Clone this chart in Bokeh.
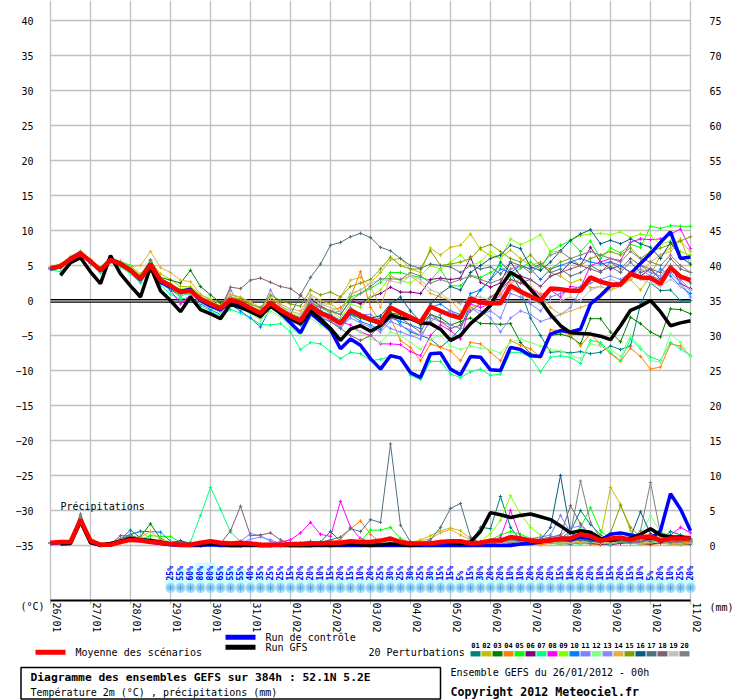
from math import nan, pi
from bokeh.plotting import figure
from bokeh.models import Range1d, LinearAxis, FixedTicker
from bokeh.embed import file_html
from bokeh.resources import INLINE
from bokeh.core.properties import value

# ---------------- data ----------------
hours = list(range(0, 385, 6))
date_labels = ["26/01", "27/01", "28/01", "29/01", "30/01", "31/01", "01/02", "02/02",
               "03/02", "04/02", "05/02", "06/02", "07/02", "08/02", "09/02", "10/02", "11/02"]
member_names = ["01", "02", "03", "04", "05", "06", "07", "08", "09", "10",
                "11", "12", "13", "14", "15", "16", "17", "18", "19", "20"]
member_colors = ["#008080", "#c0c000", "#008000", "#ff8000", "#00ff00", "#800080", "#00ff80",
                 "#ff00ff", "#80ff00", "#0080ff", "#8080ff", "#80ff80", "#8888ff", "#e0b040",
                 "#80a000", "#005f80", "#507080", "#806070", "#c0c0c0", "#808080"]
temp_ticks = list(range(-35, 41, 5))
mm_ticks = list(range(0, 76, 5))

# temperatures 2m (degC), one value every 6 h
t01 = [4.7, 5.0, 6.1, 6.9, 5.3, 4.0, 5.9, 5.4, 4.0, 2.6, 5.6, 2.5, 1.8, 0.8, 1.0, -0.3, -0.9, -1.6, -0.2,
       -0.8, -1.2, -2.0, -0.6, -1.5, -2.6, -3.4, -1.0, -1.8, -2.5, -3.2, -2.0, -2.5, -3.0, -2.5, -1.5, -3.5, -4.5, -5.0, -5.5, -6.7, -5.5, -4.0, -0.5, 1.5, 3.0,
       5.5, 4.0, 1.5, -2.5, -5.0, -7.4, -7.3, -7.5, -7.3, -7.6, -7.4, -6.5, -7.0, -6.5, -0.5, 2.5, 1.4, 1.5, 0.0, 0.0]
t02 = [4.8, 5.2, 6.3, 7.1, 5.9, 4.7, 6.0, 5.6, 4.9, 3.8, 5.6, 3.8, 3.0, 2.0, 2.0, 0.8, 0.2, -0.5, 0.8,
       0.4, -0.4, -1.2, 0.5, -0.8, -1.5, -2.0, 0.5, -0.5, -0.5, -1.5, 0.8, 1.5, 2.5, 4.0, 5.8, 6.0, 4.5, 4.0, 7.5, 6.5, 7.6, 7.9, 9.5, 7.3, 6.4,
       6.1, 7.2, 6.0, 5.0, 5.5, 4.0, 3.5, 2.5, 3.0, 1.8, 2.0, 1.5, 2.5, 3.0, 1.5, 3.5, 6.5, 7.5, 8.8, 5.0]
t03 = [4.5, 4.9, 5.8, 6.6, 5.7, 4.4, 5.6, 5.3, 4.5, 3.5, 5.8, 3.3, 2.9, 2.5, 4.3, 2.0, 0.8, -0.3, 0.5,
       0.0, -0.8, -1.5, -0.2, -1.2, -2.0, -2.6, -0.5, -1.5, -2.2, -3.0, -1.8, -2.5, -3.0, -3.5, -1.8, -2.0, -2.5, -3.5, -2.0, -2.5, -3.5, -3.0, -2.5, -3.3, -3.3,
       -3.4, -3.3, -6.0, -7.6, -7.9, -5.0, -4.8, -5.2, -6.2, -2.6, -2.6, -4.5, -5.9, -2.4, -3.3, -4.5, -5.2, -1.2, -1.3, -1.9]
t04 = [4.6, 4.8, 5.7, 6.5, 5.4, 4.1, 5.7, 5.0, 4.1, 2.9, 4.2, 2.5, 1.9, 1.0, 1.2, 0.0, -0.7, -1.3, -0.2,
       -0.5, -1.3, -2.0, -0.5, -1.6, -2.4, -3.0, -0.5, -1.0, -1.5, -1.0, 0.5, 4.1, -1.0, -3.0, -2.5, -5.7, -6.7, -8.6, -6.2, -6.7, -7.2, -8.6, -6.0, -6.2, -7.4,
       -8.6, -5.7, -6.4, -6.9, -8.1, -4.2, -4.3, -5.0, -6.5, -4.7, -6.3, -7.6, -8.7, -6.8, -8.0, -9.8, -9.5, -6.2, -6.5, -7.9]
t05 = [4.5, 4.6, 5.8, 6.9, 5.8, 4.6, 5.5, 5.6, 5.0, 3.4, 5.5, 2.7, 1.6, 0.5, 1.5, -0.2, -0.8, -1.4, 0.3,
       -0.5, -1.0, -2.0, -0.5, -1.8, -2.8, -3.0, -0.8, -1.0, -1.8, -1.5, 0.5, 1.0, 1.7, 2.6, 4.0, 4.0, 3.6, 3.3, 2.9, 4.5, 2.1, 2.1, 3.6, 3.3, 4.0,
       5.0, 3.5, 4.6, 5.5, 4.5, 7.0, 7.9, 8.5, 7.0, 8.5, 6.0, 7.5, 6.8, 8.0, 7.6, 10.6, 10.3, 10.7, 10.6, 10.6]
t06 = [4.6, 5.0, 6.0, 6.8, 5.6, 4.5, 5.8, 5.1, 4.2, 3.0, 4.8, 2.8, 2.0, 1.1, 1.3, 0.3, -0.4, -1.0, 0.2,
       -0.2, -1.0, -1.6, -0.1, -1.2, -2.0, -2.5, 0.2, -0.8, -1.5, -2.0, 0.0, -0.5, 0.5, 1.0, 1.9, 1.2, 1.2, 1.0, 3.0, 3.2, 3.0, 3.2, 6.2, 2.6, 1.9,
       2.5, 5.5, 3.5, 3.0, 2.0, 3.5, 4.0, 5.5, 5.0, 7.6, 5.5, 4.5, 5.0, 4.0, 3.5, 4.5, 3.0, 5.0, 2.4, 1.7]
t07 = [4.4, 4.1, 5.6, 6.4, 5.3, 3.9, 5.4, 4.8, 3.8, 2.5, 4.6, 2.2, 0.9, 0.2, 0.5, -0.8, -1.5, -2.3, -1.3,
       -1.8, -2.5, -3.4, -3.5, -3.3, -4.5, -7.0, -6.0, -6.2, -7.3, -8.3, -7.4, -7.6, -8.6, -8.4, -8.0, -8.4, -10.7, -11.3, -8.7, -8.7, -10.5, -11.0, -10.2, -9.8, -10.7,
       -10.5, -7.4, -7.4, -8.1, -10.2, -8.1, -7.9, -8.1, -9.0, -5.7, -6.0, -7.4, -8.6, -5.5, -6.9, -8.1, -8.6, -6.0, -6.9, -7.9]
t08 = [4.7, 5.0, 6.0, 6.7, 5.8, 4.5, 5.9, 5.3, 4.4, 3.2, 5.2, 2.9, 1.5, -0.5, 0.8, 0.0, -0.6, -1.6, -0.4,
       -0.8, -1.5, -2.5, -0.8, -1.5, -2.8, -3.5, -1.0, -2.0, -2.5, -3.0, -3.5, -4.5, -5.0, -6.2, -6.2, -6.3, -7.3, -7.9, -5.0, -3.5, -4.3, -5.5, -0.5, -1.0, -0.5,
       0.8, 3.0, 2.5, 1.8, 0.8, 1.5, 0.5, 2.0, 1.8, 5.0, 5.5, 6.0, 5.7, 8.3, 8.8, 8.7, 8.8, 9.5, 10.2, 7.4]
t09 = [4.7, 5.1, 6.2, 6.9, 5.7, 4.6, 5.9, 5.4, 4.6, 3.4, 5.5, 3.2, 2.4, 1.6, 1.9, 0.6, -0.1, -0.8, 0.5,
       0.0, -0.8, -1.5, 0.0, -1.0, -1.8, -2.3, 0.0, -1.0, -1.5, -2.5, -0.5, -1.0, 0.5, 1.5, 3.5, 2.8, 2.5, 3.5, 5.0, 4.5, 5.5, 6.5, 5.0, 5.5, 7.0,
       6.0, 8.8, 8.0, 8.6, 9.4, 6.9, 7.1, 8.6, 9.3, 9.5, 9.6, 9.4, 9.8, 9.0, 9.5, 9.3, 8.0, 8.5, 7.0, 6.5]
t10 = [4.5, 4.8, 5.8, 6.6, 5.5, 4.2, 5.7, 5.1, 4.2, 2.9, 5.0, 2.5, 1.5, 0.8, 1.0, -0.5, -1.3, -2.0, -0.6,
       -1.5, -2.5, -3.8, -1.0, -2.0, -3.0, -3.5, -1.5, -2.5, -3.0, -4.0, -2.0, -3.0, -3.5, -4.2, -2.5, -3.0, -3.5, -4.0, -1.0, -0.5, -1.5, -2.0, 1.0, 1.5, 3.0,
       4.5, 4.0, 5.0, 4.5, 3.0, 4.5, 5.0, 5.5, 6.0, 5.5, 5.2, 5.5, 5.0, 4.0, 3.5, 3.0, 4.5, 3.5, 2.0, 1.0]
t11 = [4.6, 4.9, 5.9, 6.8, 5.6, 4.4, 5.8, 5.2, 4.3, 3.1, 5.0, 2.9, 2.0, 1.3, 1.5, 0.3, -0.5, -1.2, 1.5,
       -0.5, -1.0, -1.5, 1.5, -1.0, -2.0, -2.5, 0.0, -1.5, -2.0, -2.8, -1.0, -2.0, -2.0, -3.0, -4.0, -4.5, -5.0, -5.5, -2.5, -3.0, -3.5, -4.0, -1.0, -2.0, -1.5,
       -2.5, 1.0, 0.5, -0.5, -1.5, 0.5, 1.0, 1.5, 2.0, 3.0, 2.5, 2.0, 2.0, 3.5, 4.5, 3.5, 3.0, 4.0, 2.5, 0.5]
t12 = [4.6, 4.9, 5.9, 6.6, 5.5, 4.2, 5.7, 5.1, 4.1, 2.8, 5.0, 2.7, 1.8, 0.8, 1.0, -0.3, -1.0, -1.8, -0.5,
       -1.0, -1.8, -2.8, -1.5, -2.3, -3.8, -5.0, -2.5, -3.5, -4.5, -5.5, -4.0, -4.5, -5.5, -6.0, -4.5, -5.0, -6.0, -7.0, -5.5, -5.0, -6.5, -7.0, -6.5, -6.8, -7.0,
       -7.5, -6.0, -5.5, -6.0, -6.5, -7.0, -7.2, -7.8, -8.3, -6.2, -6.5, -7.0, -8.0, -5.0, -6.7, -8.6, -8.8, -4.8, -6.0, -8.1]
t13 = [4.5, 4.8, 5.8, 6.7, 5.5, 4.3, 5.8, 5.2, 4.2, 3.0, 5.0, 2.7, 1.9, 1.0, 1.3, 0.0, -0.7, -1.3, 0.0,
       -0.6, -1.4, -2.2, -0.4, -1.6, -2.5, -3.2, -1.2, -2.2, -3.0, -3.8, -2.5, -3.2, -3.8, -4.5, -3.0, -3.6, -4.2, -5.0, -3.0, -2.0, -1.5, -2.5, -1.0, -1.5, -2.5,
       -4.5, -2.5, -1.5, -2.0, -3.0, -2.5, -2.0, -1.0, 1.5, 2.5, 3.0, 3.5, 3.0, 4.0, 5.0, 4.0, 3.5, 5.0, 3.0, 1.5]
t14 = [4.8, 5.1, 6.1, 6.9, 5.8, 4.6, 5.9, 5.5, 4.8, 5.0, 7.0, 4.7, 4.0, 2.9, 2.7, 0.9, 0.0, -0.8, 0.9,
       0.5, -0.2, -1.0, 0.5, -0.5, -1.2, -1.5, 0.8, 0.0, -0.5, 0.5, 2.9, 3.3, 2.0, -1.0, 3.5, 3.0, 3.5, 2.5, 1.0, 0.5, 0.0, -1.5, -1.0, -0.5, 0.5,
       1.0, 2.5, 3.0, 2.0, 1.0, -1.0, -2.0, -1.5, -1.0, -0.5, 0.5, 1.5, 2.0, 3.0, 4.0, 5.5, 6.5, 7.0, 8.5, 7.0]
t15 = [4.7, 5.0, 6.1, 6.8, 5.7, 4.5, 5.8, 5.3, 4.5, 3.3, 5.4, 3.1, 2.4, 1.5, 1.7, 0.5, -0.2, -0.8, 0.4,
       0.2, -0.6, -1.0, 0.8, 0.0, -0.5, -0.8, 1.5, 0.8, 1.2, 0.5, 2.0, 2.5, 3.0, 4.5, 6.2, 5.0, 4.5, 4.5, 7.1, 5.0, 5.2, 5.5, 6.0, 7.5, 8.0,
       7.0, 6.0, 5.5, 6.5, 5.0, 4.5, 5.5, 6.0, 5.0, 6.0, 6.5, 7.0, 6.5, 7.5, 6.0, 7.0, 7.5, 8.0, 8.5, 9.1]
t16 = [4.6, 5.0, 6.0, 6.8, 5.7, 4.4, 5.8, 5.2, 4.4, 3.2, 5.3, 3.0, 2.2, 1.3, 1.5, 0.2, -0.5, -1.0, 0.2,
       -0.3, -1.0, -1.7, -0.2, -1.3, -2.0, -2.8, -0.6, -1.6, -2.2, -3.0, -1.5, -2.0, -2.5, -2.2, -0.5, 0.5, -1.5, -3.0, -0.5, 1.0, 2.0, 1.5, 4.0, 5.0, 6.0,
       6.5, 7.9, 7.4, 4.8, 4.3, 5.5, 7.1, 8.6, 9.5, 10.1, 8.1, 8.6, 8.1, 8.8, 8.1, 7.6, 6.0, 8.3, 6.2, 5.2]
t17 = [4.6, 4.9, 6.0, 6.8, 5.6, 4.4, 5.8, 5.2, 4.3, 3.1, 5.1, 3.0, 2.1, 1.2, 1.4, 0.1, -0.6, -1.2, 0.1,
       -0.4, -1.2, -1.9, -0.4, -1.5, -2.0, 0.8, 3.3, 5.2, 7.9, 8.3, 9.1, 9.6, 9.0, 7.6, 7.1, 6.0, 5.0, 4.6, 5.2, 5.0, 4.8, 4.0, 5.0, 4.5, 4.8,
       3.8, 5.5, 5.0, 4.5, 5.2, 4.0, 4.5, 3.5, 4.0, 5.0, 4.2, 4.8, 4.0, 5.5, 4.0, 4.5, 3.0, 5.0, 3.5, 2.5]
t18 = [4.6, 4.9, 5.9, 6.7, 5.6, 4.3, 5.8, 5.2, 4.3, 3.1, 5.1, 2.9, 2.1, 1.2, 1.4, 0.2, -0.5, -1.1, 1.9,
       1.7, 2.9, 3.2, 2.6, 2.0, 1.7, 0.7, -0.5, -1.5, -3.0, -4.0, -5.0, -5.7, -5.0, -3.5, -2.5, -2.5, -3.5, -4.5, -2.0, -3.0, -4.0, -3.5, -1.5, -0.5, 0.5,
       1.5, 3.0, 2.5, 3.0, 2.0, 3.5, 4.0, 4.5, 5.0, 4.5, 4.0, 5.5, 4.5, 6.0, 5.0, 4.5, 4.0, 6.0, 4.5, 4.0]
t19 = [4.7, 5.0, 6.0, 6.8, 5.7, 4.4, 5.9, 5.3, 4.4, 3.2, 5.2, 3.0, 2.2, 1.3, 1.5, 0.3, -0.4, -1.0, 0.3,
       -0.1, -0.8, -1.4, 0.0, -1.0, -1.5, -2.0, 0.5, -0.5, -1.0, -1.5, 1.0, 1.5, 2.5, 3.0, 2.8, 2.5, 3.5, 3.0, 1.5, 1.0, 0.0, -0.5, 0.5, 0.5, 0.0,
       0.5, 1.5, 1.0, 0.0, -0.5, 0.0, 0.0, 0.5, 0.0, 1.5, 2.0, 3.0, 2.5, 3.5, 3.0, 2.5, 2.0, 3.0, 2.0, 1.5]
t20 = [4.6, 4.9, 6.0, 6.8, 5.6, 4.3, 5.8, 5.2, 4.2, 2.8, 5.8, 2.7, 1.9, 1.0, 1.2, 0.0, -0.7, -1.2, 0.0,
       -0.5, -1.2, -2.0, -0.3, -1.3, -2.1, -2.7, -0.3, -1.0, -1.5, -2.0, 0.0, 1.0, 2.0, 3.1, 3.1, 3.0, 4.0, 3.5, 2.5, 3.0, 2.5, 3.0, 3.5, 3.0, 2.5,
       3.0, 4.5, 5.0, 4.0, 5.0, 6.5, 7.0, 6.0, 6.5, 7.0, 6.5, 6.0, 5.5, 7.0, 6.0, 5.5, 5.0, 6.5, 5.0, 4.0]
t_ctrl = [4.5, 4.8, 6.0, 6.8, 5.5, 4.4, 5.9, 5.3, 4.4, 3.0, 5.2, 2.6, 1.9, 1.3, 1.6, 0.0, -0.8, -1.3, 0.0,
          -0.6, -1.3, -2.2, -0.5, -1.8, -3.2, -4.6, -1.8, -3.0, -4.2, -6.9, -5.5, -6.4,
          -8.3, -9.8, -7.9, -8.2, -10.3, -11.0, -7.6, -7.5, -9.8, -10.6, -8.0, -8.1, -9.9, -10.0, -6.7, -7.0, -7.9,
          -8.0, -4.8, -4.3, -4.5, -4.1, -0.5, 0.7, 2.1, 2.4, 3.8, 5.3, 6.7, 8.3, 9.8, 6.0, 6.2]
t_gfs = [nan, 3.6, 5.4, 6.1, 4.1, 2.4, 6.4, 3.8, 2.1, 0.5, 4.8, 1.4, 0.0, -1.6, 0.5, -1.3, -1.9, -2.6, -0.5,
         -1.0, -1.6, -2.3, -0.8, -1.8, -2.6, -3.3, -1.5, -2.6, -4.0, -5.7, -4.1, -3.6,
         -4.4, -3.6, -2.1, -2.5, -2.6, -3.2, -3.3, -4.1, -5.7, -5.0, -3.3, -2.1, -0.7, 1.9, 4.0, 3.2, 1.6,
         0.0, -2.0, -3.6, -4.6, -4.7, -4.8, -5.1, -5.6, -3.6, -1.4, -0.8, 0.0, -1.6, -3.6, -3.2, -2.9]
t_mean = [4.6, 4.9, 5.9, 6.7, 5.6, 4.3, 5.8, 5.2, 4.3, 3.1, 5.1, 2.9, 2.1, 1.2, 1.4, 0.2, -0.5, -1.1, 0.1,
          -0.3, -1.1, -1.8, -0.3, -1.4, -2.2, -2.9, -0.8, -1.8, -2.4, -3.3, -1.4, -2.1, -2.7, -3.2, -1.0,
          -1.7, -2.4, -3.1, -0.9, -1.5, -2.1, -2.5, 0.3, -0.3, -0.4, -0.4, 2.1, 1.3, 0.6, 0.0, 1.7, 1.6,
          1.4, 1.4, 3.3, 2.7, 2.3, 2.3, 3.8, 3.3, 3.2, 2.4, 4.7, 3.4, 2.9]

# precipitation (mm per 6 h)
p01 = [0.3, 0.4, 0.5, 3.9, 0.6, 0.1, 0.2, 0.9, 2.2, 1.1, 0.8, 0.5, 0.3,
       0.6, 0.2, 0.1, 0.2, 0.3, 0.1, 0.1, 0.2, 0.1, 0.0, 0.1, 0.3, 0.2,
       0.1, 0.5, 2.0, 0.6, 0.3, 0.2, 0.1, 0.1, 0.3, 0.5, 0.2, 0.1, 0.4,
       0.6, 0.2, 0.3, 0.4, 2.6, 2.4, 7.0, 2.6, 0.7, 0.5, 0.3, 0.6, 1.0,
       2.0, 5.0, 3.0, 1.5, 0.8, 0.4, 0.3, 0.6, 1.2, 0.8, 2.0, 1.5, 1.0]
p02 = [0.3, 0.4, 0.6, 3.5, 0.8, 0.1, 0.1, 0.6, 1.5, 2.1, 0.9, 0.4, 0.2,
       0.1, 0.1, 0.0, 0.1, 0.2, 0.1, 0.2, 0.1, 0.1, 0.1, 0.0, 0.1, 0.1,
       0.2, 0.3, 0.2, 0.1, 0.1, 0.3, 0.2, 0.1, 0.1, 0.2, 0.4, 0.8, 1.4,
       2.1, 2.5, 2.1, 1.0, 0.4, 0.3, 0.5, 0.6, 0.4, 0.3, 0.5, 0.4, 0.6,
       0.8, 0.5, 0.6, 1.2, 8.3, 5.9, 2.1, 0.8, 0.5, 0.9, 0.6, 0.5, 0.7]
p03 = [0.4, 0.5, 0.5, 3.6, 0.7, 0.2, 0.2, 0.5, 0.9, 1.3, 3.1, 1.0, 0.4,
       0.2, 0.1, 0.1, 0.0, 0.1, 0.0, 0.1, 0.0, 0.0, 0.1, 0.2, 0.1, 0.0,
       0.0, 0.1, 0.2, 0.1, 0.3, 0.2, 0.1, 0.2, 0.4, 0.3, 0.1, 0.0, 0.1,
       0.2, 0.1, 0.3, 0.2, 0.1, 0.5, 0.8, 1.0, 0.6, 0.4, 0.5, 0.8, 0.6,
       0.5, 0.9, 0.7, 0.4, 0.6, 0.8, 0.5, 0.4, 0.9, 0.6, 0.3, 0.5, 0.4]
p04 = [0.3, 0.4, 0.4, 3.4, 0.5, 0.0, 0.1, 0.4, 0.8, 0.6, 0.5, 0.3, 0.1,
       0.1, 0.0, 0.1, 0.2, 0.1, 0.0, 0.0, 0.1, 0.0, 0.0, 0.1, 0.2, 0.3,
       0.2, 0.1, 0.4, 0.9, 2.4, 3.5, 1.6, 0.4, 0.2, 0.1, 0.0, 0.1, 0.2,
       0.1, 0.0, 0.1, 0.2, 0.3, 0.1, 0.2, 0.4, 0.3, 0.2, 0.1, 0.3, 0.2,
       0.4, 0.3, 0.2, 0.1, 0.3, 0.5, 0.4, 0.2, 0.1, 0.3, 0.2, 0.1, 0.2]
p05 = [0.3, 0.5, 0.5, 3.8, 0.6, 0.1, 0.2, 0.7, 1.0, 0.9, 1.4, 1.3, 1.3,
       0.4, 0.2, 0.1, 0.3, 0.2, 0.1, 0.1, 0.0, 0.1, 0.2, 0.1, 0.0, 0.1,
       0.1, 0.2, 0.3, 0.2, 0.4, 0.6, 2.2, 2.2, 2.6, 1.0, 0.3, 0.2, 0.1,
       0.3, 0.2, 0.4, 0.5, 0.6, 0.8, 1.5, 2.0, 1.6, 1.0, 0.8, 0.5, 0.9,
       1.2, 2.6, 5.4, 2.1, 0.9, 0.6, 1.0, 1.4, 0.8, 1.9, 1.4, 0.8, 0.6]
p06 = [0.4, 0.4, 0.5, 3.7, 0.5, 0.1, 0.1, 0.6, 0.9, 0.8, 0.6, 0.4, 0.2,
       0.1, 0.0, 0.0, 0.1, 0.0, 0.1, 0.2, 0.1, 0.0, 0.0, 0.1, 0.0, 0.1,
       0.0, 0.1, 0.1, 0.2, 0.1, 0.0, 0.2, 0.3, 0.1, 0.1, 0.2, 0.1, 0.0,
       0.1, 0.2, 0.1, 0.0, 0.2, 0.4, 0.6, 0.3, 0.2, 0.5, 0.8, 0.6, 0.3,
       0.2, 0.4, 0.3, 0.2, 0.1, 0.3, 0.5, 0.3, 0.2, 0.4, 0.6, 0.3, 0.2]
p07 = [0.3, 0.4, 0.5, 3.5, 0.6, 0.1, 0.1, 0.5, 0.7, 0.6, 0.5, 0.4, 0.3,
       0.3, 0.5, 4.3, 8.3, 5.2, 1.9, 0.6, 0.2, 0.1, 0.0, 0.1, 0.0, 0.1,
       0.0, 0.1, 0.2, 0.1, 0.0, 0.1, 0.2, 0.1, 0.0, 0.1, 0.2, 0.1, 0.0,
       0.1, 0.2, 0.0, 0.1, 0.3, 0.2, 0.4, 0.5, 0.3, 0.2, 0.4, 0.3, 0.2,
       0.3, 0.2, 0.4, 0.3, 0.2, 0.5, 0.3, 0.2, 0.4, 0.6, 0.3, 0.2, 0.3]
p08 = [0.3, 0.4, 0.5, 3.6, 0.5, 0.1, 0.2, 0.6, 0.8, 0.7, 0.6, 0.3, 0.2,
       0.1, 0.1, 0.0, 0.1, 0.2, 0.1, 0.0, 0.1, 0.2, 0.3, 0.5, 0.8, 1.8,
       3.3, 1.6, 1.3, 6.3, 2.6, 1.0, 0.5, 0.2, 0.1, 0.2, 0.1, 0.2, 0.3,
       0.2, 0.1, 0.2, 0.3, 0.2, 0.4, 1.2, 5.0, 1.2, 0.6, 0.4, 0.8, 0.6,
       0.5, 0.9, 0.6, 0.4, 0.7, 1.0, 0.6, 0.5, 0.9, 1.2, 1.5, 2.6, 1.8]
p09 = [0.4, 0.5, 0.6, 3.9, 0.7, 0.2, 0.2, 0.7, 1.0, 0.8, 0.9, 0.6, 0.4,
       0.2, 0.1, 0.1, 0.2, 0.1, 0.0, 0.1, 0.2, 0.1, 0.0, 0.1, 0.2, 0.1,
       0.2, 0.3, 0.2, 0.1, 0.2, 0.3, 0.4, 0.3, 0.2, 0.1, 0.3, 0.5, 0.3,
       0.4, 0.6, 0.5, 0.3, 0.6, 1.7, 3.6, 7.1, 4.5, 2.6, 1.5, 0.9, 0.7,
       0.8, 1.2, 0.9, 0.6, 1.0, 1.5, 0.8, 0.6, 1.2, 1.0, 0.7, 0.9, 0.8]
p10 = [0.3, 0.4, 0.5, 3.7, 0.6, 0.1, 0.3, 0.9, 1.6, 2.0, 2.0, 1.9, 0.6,
       0.3, 0.1, 0.0, 0.1, 0.2, 0.1, 0.0, 0.1, 0.2, 0.1, 0.0, 0.1, 0.0,
       0.1, 0.2, 0.1, 0.0, 0.1, 0.2, 0.3, 0.2, 0.1, 0.2, 0.1, 0.0, 0.1,
       0.2, 0.3, 0.1, 0.2, 0.4, 0.5, 0.3, 0.6, 0.4, 0.3, 0.5, 0.7, 0.5,
       0.6, 0.8, 1.0, 0.7, 0.5, 0.9, 1.2, 0.8, 1.4, 1.0, 0.6, 0.8, 0.5]
p11 = [0.3, 0.4, 0.5, 3.8, 0.6, 0.1, 0.2, 0.6, 0.8, 0.7, 0.6, 0.4, 0.3,
       0.2, 0.1, 0.1, 0.2, 0.3, 0.4, 0.6, 1.7, 1.4, 0.6, 0.2, 0.1, 0.0,
       0.1, 0.2, 0.1, 0.0, 0.1, 0.2, 0.1, 0.0, 0.2, 0.3, 0.1, 0.2, 0.1,
       0.3, 0.2, 0.4, 0.3, 0.5, 0.4, 0.6, 0.5, 0.8, 1.0, 1.2, 1.5, 4.3,
       1.8, 1.0, 0.6, 0.8, 0.5, 0.7, 0.4, 0.6, 1.0, 0.8, 0.5, 0.7, 0.6]
p12 = [0.4, 0.4, 0.5, 3.6, 0.5, 0.1, 0.2, 0.7, 0.9, 0.8, 0.7, 0.9, 0.5,
       0.2, 0.1, 0.0, 0.1, 0.1, 0.0, 0.1, 0.2, 0.1, 0.0, 0.1, 0.0, 0.1,
       0.2, 0.1, 0.0, 0.1, 0.2, 0.1, 0.3, 0.4, 0.2, 0.1, 0.0, 0.1, 0.2,
       0.1, 0.2, 0.3, 0.1, 0.2, 0.4, 0.5, 1.0, 0.8, 0.6, 0.4, 0.5, 0.3,
       0.5, 0.8, 0.6, 0.4, 0.7, 0.5, 0.9, 1.5, 4.3, 1.8, 0.8, 0.6, 0.5]
p13 = [0.3, 0.4, 0.5, 3.7, 0.6, 0.1, 0.2, 0.8, 1.1, 0.9, 0.7, 0.5, 0.3,
       0.1, 0.1, 0.0, 0.1, 0.2, 0.1, 0.2, 0.9, 1.2, 0.8, 0.3, 0.1, 0.1,
       0.0, 0.1, 0.2, 0.1, 0.2, 0.3, 0.2, 0.1, 0.3, 0.5, 0.3, 0.2, 0.1,
       0.2, 0.3, 0.4, 0.2, 0.3, 0.5, 0.4, 0.7, 0.5, 0.4, 0.8, 1.0, 1.5,
       2.5, 2.8, 1.2, 0.9, 0.6, 0.8, 0.5, 0.7, 0.9, 1.2, 0.6, 0.5, 0.7]
p14 = [0.3, 0.4, 0.6, 3.4, 0.9, 0.2, 0.1, 0.5, 1.0, 1.2, 2.0, 0.8, 0.4,
       0.2, 0.1, 0.1, 0.0, 0.1, 0.2, 0.1, 0.0, 0.1, 0.1, 0.0, 0.1, 0.2,
       0.1, 0.2, 0.3, 0.2, 0.5, 0.8, 0.4, 0.2, 0.1, 0.2, 0.3, 0.6, 1.0,
       1.8, 2.3, 1.5, 0.8, 0.4, 0.3, 0.5, 0.4, 0.6, 0.5, 0.3, 0.4, 0.3,
       0.5, 0.4, 0.6, 0.3, 0.5, 0.7, 0.4, 0.3, 0.5, 0.6, 0.4, 0.3, 0.5]
p15 = [0.4, 0.5, 0.5, 3.8, 0.7, 0.1, 0.2, 0.6, 1.0, 0.9, 0.8, 0.5, 0.3,
       0.1, 0.1, 0.2, 0.1, 0.0, 0.1, 0.1, 0.2, 0.0, 0.1, 0.1, 0.0, 0.1,
       0.2, 0.1, 0.0, 0.1, 0.2, 0.3, 0.2, 0.1, 0.2, 0.3, 0.2, 0.1, 0.2,
       0.3, 0.4, 0.2, 0.3, 0.5, 0.6, 0.8, 1.2, 1.0, 0.8, 0.6, 0.5, 0.7,
       0.6, 0.8, 1.0, 0.9, 1.8, 5.7, 2.6, 1.2, 1.0, 1.5, 0.9, 1.1, 0.8]
p16 = [0.3, 0.4, 0.5, 3.9, 0.6, 0.1, 0.2, 0.7, 1.4, 1.0, 0.8, 0.6, 0.4,
       0.7, 0.3, 0.1, 0.1, 0.2, 0.1, 0.0, 0.1, 0.2, 0.1, 0.0, 0.1, 0.2,
       0.1, 0.2, 0.1, 0.2, 0.3, 0.2, 0.1, 0.2, 0.4, 0.3, 0.2, 0.1, 0.2,
       0.3, 0.2, 0.4, 0.3, 0.5, 0.6, 0.8, 0.9, 0.7, 0.6, 0.8, 2.6, 10.0,
       1.9, 0.8, 0.6, 0.5, 0.9, 1.0, 1.2, 4.8, 1.7, 0.8, 1.4, 1.0, 0.8]
p17 = [0.3, 0.4, 0.5, 4.0, 0.6, 0.1, 0.2, 0.8, 1.2, 0.9, 0.7, 0.5, 0.4,
       0.5, 0.2, 0.1, 0.1, 0.2, 0.3, 0.1, 0.2, 0.1, 0.0, 0.1, 0.2, 0.4,
       0.6, 0.5, 0.8, 1.2, 2.4, 2.0, 3.7, 3.3, 14.5, 2.9, 0.5, 0.3, 0.8,
       2.6, 5.3, 6.0, 1.2, 0.3, 0.2, 0.4, 0.5, 0.3, 0.6, 0.4, 0.5, 0.8,
       0.6, 0.9, 0.7, 0.5, 0.8, 0.6, 0.4, 0.7, 0.9, 0.6, 0.5, 0.7, 0.6]
p18 = [0.4, 0.5, 0.5, 4.5, 0.6, 0.1, 0.2, 1.4, 1.4, 0.8, 0.6, 0.4, 0.3,
       0.2, 0.1, 0.0, 0.1, 0.3, 2.1, 5.6, 1.4, 1.5, 1.8, 0.8, 0.3, 0.1,
       0.0, 0.1, 0.2, 0.1, 0.0, 0.2, 0.1, 0.3, 0.2, 0.1, 0.2, 0.1, 0.2,
       0.1, 0.3, 0.2, 0.4, 0.3, 0.5, 0.6, 0.8, 1.0, 0.7, 0.9, 1.2, 1.5,
       5.7, 3.1, 1.5, 0.8, 0.6, 0.5, 0.7, 0.9, 0.6, 0.8, 0.5, 0.7, 0.6]
p19 = [0.3, 0.4, 0.5, 3.6, 0.6, 0.1, 0.2, 0.7, 0.8, 0.7, 0.5, 0.4, 0.2,
       0.1, 0.0, 0.1, 0.1, 0.0, 0.1, 0.2, 0.1, 0.0, 0.1, 0.0, 0.1, 0.0,
       0.1, 0.0, 0.1, 0.2, 0.1, 0.0, 0.1, 0.2, 0.6, 0.4, 0.2, 0.1, 0.2,
       0.3, 0.2, 0.1, 0.2, 0.4, 0.5, 0.3, 0.6, 0.4, 0.5, 0.7, 0.6, 0.9,
       1.2, 1.6, 1.0, 0.8, 0.9, 1.1, 0.7, 0.9, 1.3, 1.0, 0.8, 0.9, 0.7]
p20 = [0.4, 0.5, 0.6, 4.3, 0.8, 0.2, 0.2, 1.0, 1.4, 1.0, 0.7, 0.5, 0.3,
       0.2, 0.1, 0.1, 0.2, 0.1, 0.0, 0.1, 0.2, 0.1, 0.0, 0.1, 0.2, 0.1,
       0.1, 0.2, 0.1, 0.2, 0.3, 0.2, 0.1, 0.2, 0.4, 0.3, 0.1, 0.2, 0.3,
       0.2, 0.4, 0.3, 0.2, 0.3, 0.4, 0.6, 0.8, 0.5, 0.6, 0.9, 0.8, 0.7,
       1.7, 9.2, 3.3, 1.0, 0.8, 0.6, 0.9, 2.1, 9.0, 1.7, 0.9, 1.1, 0.8]
p_ctrl = [0.3, 0.4, 0.5, 3.6, 0.5, 0.0, 0.1, 0.6, 0.8, 0.7, 0.5, 0.3, 0.1,
          0.0, 0.0, 0.0, 0.1, 0.0, 0.0, 0.0, 0.0, 0.0, 0.0, 0.0, 0.0, 0.0,
          0.0, 0.0, 0.0, 0.0, 0.0, 0.0, 0.0, 0.0, 0.0, 0.0, 0.0, 0.0, 0.0,
          0.0, 0.0, 0.0, 0.0, 0.0, 0.0, 0.0, 0.0, 0.2, 0.3, 0.5, 0.8, 1.0,
          0.8, 1.2, 1.0, 0.7, 1.6, 1.8, 1.5, 1.2, 1.0, 2.1, 7.4, 5.2, 2.1]
p_gfs = [nan, 0.2, 0.3, 3.4, 0.4, 0.1, 0.3, 0.6, 1.0, 0.8, 0.7, 0.5, 0.2,
         0.1, 0.1, 0.1, 0.3, 0.2, 0.0, 0.0, 0.1, 0.0, 0.0, 0.1, 0.0, 0.0,
         0.0, 0.1, 0.0, 0.1, 0.2, 0.1, 0.0, 0.1, 0.2, 0.1, 0.0, 0.1, 0.3,
         0.5, 0.4, 0.3, 0.5, 2.0, 4.7, 4.4, 4.0, 4.3, 4.5, 4.1, 3.7, 2.8,
         1.8, 2.1, 1.9, 1.0, 0.7, 1.0, 1.0, 1.6, 2.4, 1.5, 1.2, 1.2, 1.1]
p_mean = [0.4, 0.5, 0.5, 3.7, 0.7, 0.1, 0.1, 0.5, 0.8, 0.7, 0.5, 0.4, 0.2,
          0.1, 0.1, 0.4, 0.6, 0.4, 0.3, 0.4, 0.3, 0.1, 0.1, 0.1, 0.2, 0.2,
          0.3, 0.3, 0.4, 0.4, 0.6, 0.5, 0.5, 0.7, 1.0, 0.5, 0.3, 0.3, 0.3,
          0.5, 0.6, 0.6, 0.3, 0.4, 0.7, 0.7, 1.2, 1.0, 0.7, 0.6, 0.7, 1.0,
          1.0, 1.6, 1.3, 0.7, 1.0, 1.1, 0.8, 1.2, 1.3, 0.7, 1.0, 1.0, 1.0]

# probability of snow (%), from +72 h to +384 h
snow_hours = list(range(72, 385, 6))
snow_pct = [25, 55, 60, 80, 80, 65, 55, 55, 40, 35, 25, 25, 15, 20, 20, 10, 15, 20, 15, 10,
            20, 25, 30, 25, 30, 25, 30, 15, 15, 5, 15, 30, 20, 20, 10, 10, 20, 20, 20, 15,
            10, 20, 20, 10, 15, 20, 15, 10, 5, 20, 10, 25, 20]

# ---------------- build ----------------
FONT = "DejaVu Sans Mono"
temps = [t01, t02, t03, t04, t05, t06, t07, t08, t09, t10, t11, t12, t13, t14, t15, t16, t17, t18, t19, t20]
precs = [p01, p02, p03, p04, p05, p06, p07, p08, p09, p10, p11, p12, p13, p14, p15, p16, p17, p18, p19, p20]
allser = temps + precs + [t_ctrl, t_gfs, t_mean, p_ctrl, p_gfs, p_mean]
bad = [k for k, s in enumerate(allser) if len(s) != len(hours)]
if bad or len(snow_pct) != len(snow_hours):
    raise SystemExit("length problem %s %d" % (bad, len(snow_pct)))

xd = [h / 24 for h in hours]
xs = [h / 24 for h in snow_hours]
ndays = len(date_labels) - 1
day_ticks = list(range(ndays + 1))

# page layout helpers: 40 px per day (day 0 at x=50 px), 7 px per degree (0 degC at y=300 px)
def dx(px):
    return (px - 50) / 40.0

def yy(py):
    return (300 - py) / 7.0

LAB_SHIFT = 0.155  # date labels sit ~6 px right of their day line

p = figure(width=740, height=700, x_range=Range1d(dx(0), dx(740)), y_range=Range1d(yy(700), yy(0)),
           min_border=0, x_axis_location=None, y_axis_location=None,
           toolbar_location=None, output_backend="svg", outline_line_color=None,
           background_fill_color="white", border_fill_color="white")
p.grid.visible = False
p.extra_y_ranges = {"mm": Range1d(yy(700) + 35, yy(0) + 35)}
p.extra_x_ranges = {"lab": Range1d(dx(0) - LAB_SHIFT, dx(740) - LAB_SHIFT)}

axis_font = dict(major_label_text_font=FONT, major_label_text_font_size="10px",
                 major_label_text_color="black")
ya = LinearAxis(fixed_location=0, ticker=FixedTicker(ticks=temp_ticks), axis_line_color=None,
                major_tick_line_color=None, minor_tick_line_color=None, major_tick_in=0,
                major_tick_out=0, major_label_standoff=17, **axis_font)
p.add_layout(ya, "left")
ra = LinearAxis(y_range_name="mm", fixed_location=ndays, ticker=FixedTicker(ticks=mm_ticks),
                axis_line_color=None, major_tick_line_color=None, minor_tick_line_color=None,
                major_tick_in=0, major_tick_out=0, major_label_standoff=19, **axis_font)
p.add_layout(ra, "right")
xa = LinearAxis(x_range_name="lab", fixed_location=yy(600), ticker=FixedTicker(ticks=day_ticks),
                major_label_overrides={k: d for k, d in enumerate(date_labels)},
                major_label_orientation="vertical", axis_line_color=None,
                major_tick_line_color=None, minor_tick_line_color=None, major_tick_in=0,
                major_tick_out=0, major_label_standoff=2, **axis_font)
p.add_layout(xa, "below")

# grid lines
p.segment(x0=0, y0=temp_ticks, x1=ndays, y1=temp_ticks, line_color="#c0c0c0", line_width=1.3)
p.segment(x0=day_ticks, y0=yy(604), x1=day_ticks, y1=yy(0), line_color="#c0c0c0", line_width=1.3)
# 0 degC double line and bottom axis line
p.segment(x0=0, y0=[0.12, -0.22], x1=ndays, y1=[0.12, -0.22], line_color="black", line_width=1.2)
p.segment(x0=[0], y0=[yy(600)], x1=[ndays], y1=[yy(600)], line_color="black", line_width=1.8)

# snow probability band
bar_base = yy(583)
p.quad(left=[v - 0.125 for v in xs], right=[v + 0.125 for v in xs],
       bottom=bar_base, top=[bar_base + max(6.0, v * 0.26) / 7 for v in snow_pct],
       fill_color="#c8ffff", line_color=None)
p.scatter(x=xs, y=yy(587.3), size=10.5, marker="circle", fill_color="#a8dcf5", line_color=None)
p.scatter(x=xs, y=yy(587.3), size=7, marker="asterisk", line_color="#55aaf0", line_width=1)
p.text(x=xs, y=yy(580), text=["%d%%" % v for v in snow_pct], angle=pi / 2,
       text_align="left", text_baseline="middle", text_color="#0000ff",
       text_font=value(FONT), text_font_size="8px", text_font_style="bold")

# series
for k in range(20):
    c = member_colors[k]
    p.line(xd, precs[k], y_range_name="mm", line_color=c, line_width=1)
    p.scatter(xd, precs[k], y_range_name="mm", marker="cross", size=3.5, line_color=c, line_width=1)
for k in range(20):
    c = member_colors[k]
    p.line(xd, temps[k], line_color=c, line_width=1)
    p.scatter(xd, temps[k], marker="cross", size=3.5, line_color=c, line_width=1)

p.line(xd, p_ctrl, y_range_name="mm", line_color="#0000ff", line_width=3.5)
p.line(xd, p_gfs, y_range_name="mm", line_color="black", line_width=3.5)
p.line(xd, p_mean, y_range_name="mm", line_color="#ff0000", line_width=4.5)
p.line(xd, t_ctrl, line_color="#0000ff", line_width=3.5)
p.line(xd, t_gfs, line_color="black", line_width=3.5)
p.line(xd, t_mean, line_color="#ff0000", line_width=4.5)

def txt(px, py, s, size="10px", style="normal", align="left"):
    p.text(x=[dx(px)], y=[yy(py)], text=[s], text_font=value(FONT), text_font_size=size,
           text_font_style=style, text_align=align, text_baseline="middle", text_color="black")

txt(60, 506, "Précipitations")
txt(20, 606, "(°C)")
txt(709, 607, "(mm)")

# legend
p.segment(x0=[dx(35)], y0=[yy(651.7)], x1=[dx(65)], y1=[yy(651.7)], line_color="#ff0000", line_width=5)
p.segment(x0=[dx(225)], y0=[yy(636.7)], x1=[dx(255)], y1=[yy(636.7)], line_color="#0000ff", line_width=5)
p.segment(x0=[dx(225)], y0=[yy(646.7)], x1=[dx(255)], y1=[yy(646.7)], line_color="black", line_width=5)
txt(75, 651.7, "Moyenne des scénarios")
txt(265, 636.7, "Run de contrôle")
txt(265, 646.7, "Run GFS")
txt(368, 652.3, "20 Perturbations")

sw_x = [dx(475 + 11 * k) for k in range(20)]
p.rect(x=sw_x, y=yy(653.3), width=0.25, height=5.3 / 7, fill_color=member_colors, line_color=None)
p.text(x=sw_x, y=yy(644), text=member_names, text_font=value(FONT), text_font_size="7px",
       text_font_style="bold", text_align="center", text_baseline="middle", text_color="black")

p.quad(left=[dx(20.5)], right=[dx(440)], bottom=[yy(698.5)], top=[yy(667)], fill_color=None,
       line_color="black", line_width=1.5)
txt(30, 677, "Diagramme des ensembles GEFS sur 384h : 52.1N 5.2E", size="11.3px", style="bold")
txt(30, 691.7, "Température 2m (°C) , précipitations (mm)")
txt(450, 672, "Ensemble GEFS du 26/01/2012 - 00h")
txt(450, 691.7, "Copyright 2012 Meteociel.fr", size="11.6px", style="bold")

open("out.html", "w").write(file_html(p, INLINE, title="GEFS"))
